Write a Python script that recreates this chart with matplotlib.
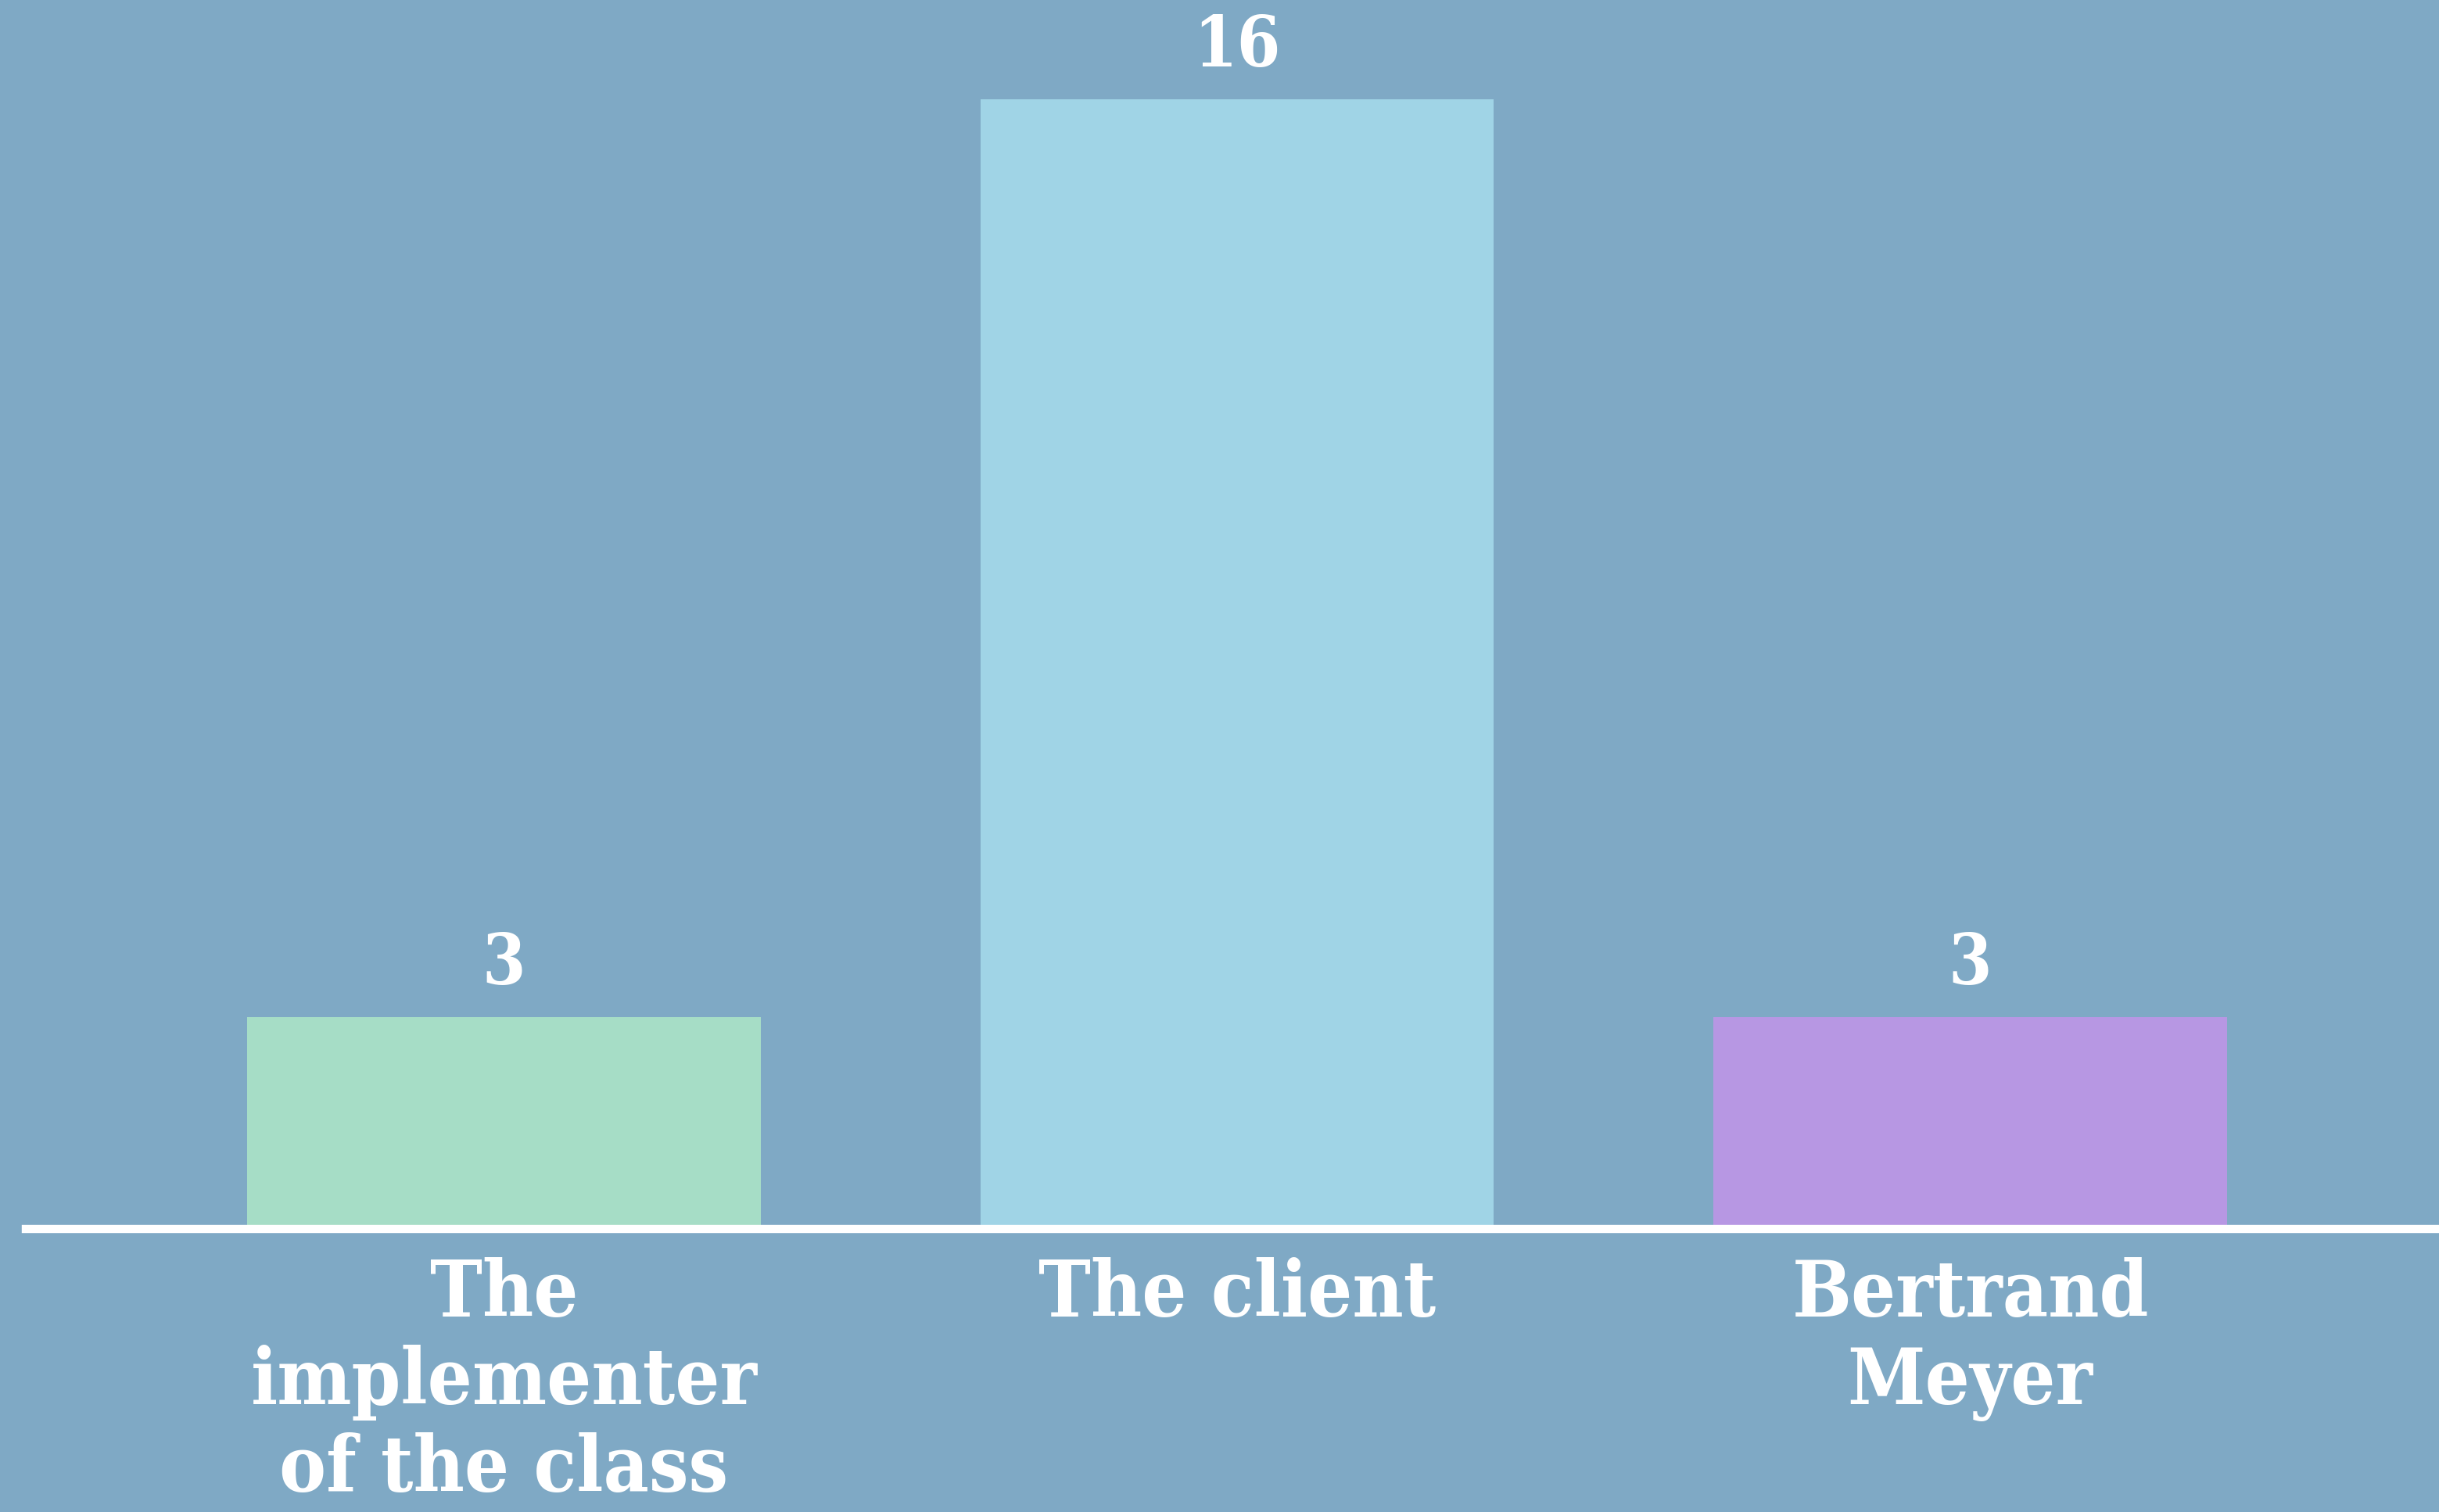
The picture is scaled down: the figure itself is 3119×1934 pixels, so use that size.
import matplotlib
matplotlib.use("Agg")
import matplotlib.pyplot as plt

# poll results
categories = ["The\nimplementer\nof the class", "The client", "Bertrand\nMeyer"]
votes = [3, 16, 3]
bar_colors = ["#A6DDC6", "#A0D4E6", "#B797E3"]

BG = "#7FA9C5"

plt.rcParams["font.family"] = ["DejaVu Serif"]

fig = plt.figure(figsize=(31.19, 19.34), dpi=100, facecolor=BG)
ax = fig.add_axes([0, 0, 1, 1])
ax.set_facecolor(BG)

x = list(range(len(categories)))
ax.bar(x, votes, width=0.7, color=bar_colors, zorder=2)

ax.set_xlim(-0.6875, 2.6395)
ax.set_ylim(-4.01, 17.41)

# baseline
ax.axhline(0, xmin=0.0105, xmax=1, color="white", linewidth=7.5, zorder=3)

for xi, v in zip(x, votes):
    ax.text(xi, v + 0.74, str(v), ha="center", va="center", color="white",
            fontsize=64, fontweight="bold", fontstretch="condensed")

for xi, lab in zip(x, categories):
    ax.text(xi, -0.40, lab, ha="center", va="top", color="white",
            fontsize=72, fontweight="bold", fontstretch="condensed",
            linespacing=1.2)

ax.axis("off")
plt.savefig("out.png", dpi=100, facecolor=BG)
plt.close()
